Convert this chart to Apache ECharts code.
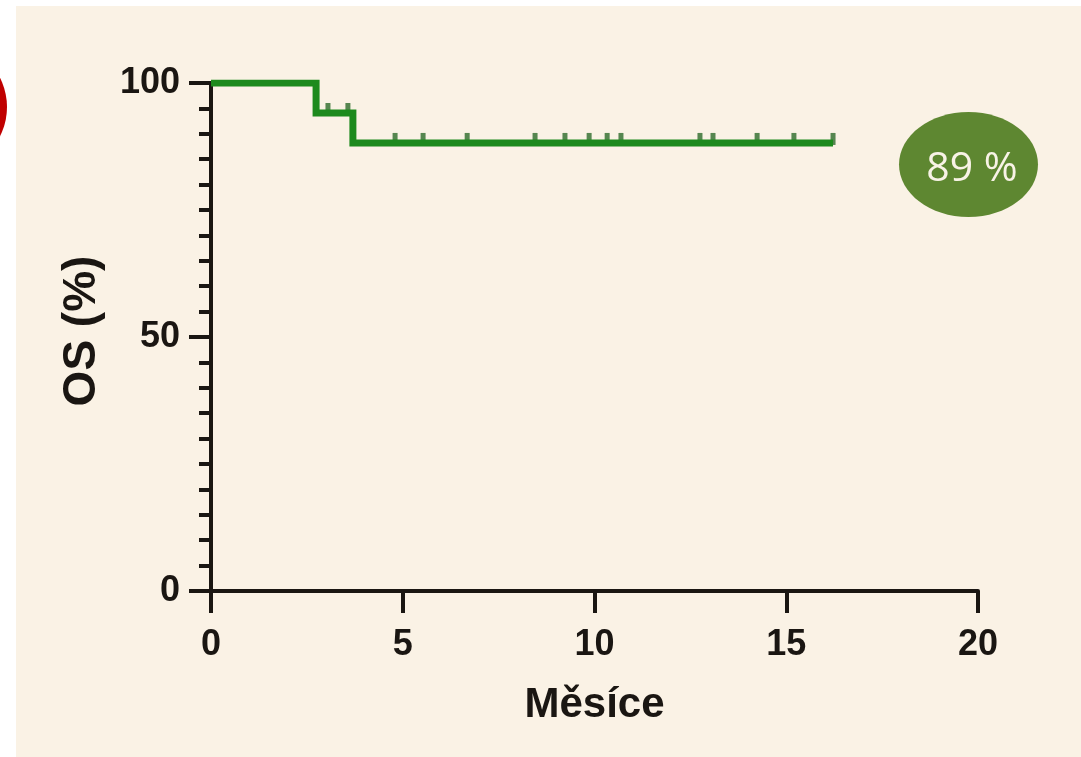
<!DOCTYPE html>
<html>
<head>
<meta charset="utf-8">
<script src="https://cdn.jsdelivr.net/npm/echarts@6/dist/echarts.min.js"></script>
<style>
html,body{margin:0;padding:0;background:#ffffff;}
#chart{width:1081px;height:757px;}
</style>
</head>
<body>
<div id="chart"></div>
<script>
// Kaplan-Meier step points (months, OS %)
var stepTimes = [0, 2.74, 3.7, 16.22];
var stepValues = [100, 94.1, 88.2, 88.2];
// censored observations
var censorTimes = [3.05, 3.57, 4.80, 5.53, 6.68, 8.45, 9.23, 9.86, 10.33, 10.69, 12.75, 13.09, 14.24, 15.20, 16.22];
var censorValues = [94.1, 94.1, 88.2, 88.2, 88.2, 88.2, 88.2, 88.2, 88.2, 88.2, 88.2, 88.2, 88.2, 88.2, 88.2];
var xTicks = [0, 5, 10, 15, 20];
var yTicks = [0, 50, 100];
var xTitle = 'Měsíce';
var yTitle = 'OS (%)';
var badgeText = '89 %';

var chart = echarts.init(document.getElementById('chart'));
var ink = '#1a1612';
var font = '"Liberation Sans", Arial, sans-serif';

chart.setOption({
  backgroundColor: '#ffffff',
  animation: false,
  grid: {left: 211, right: 103, top: 83, bottom: 166},
  graphic: [
    {type: 'rect', z: -10, silent: true, shape: {x: 16, y: 6, width: 1065, height: 751}, style: {fill: '#faf2e5'}},
    {type: 'circle', z: 10, shape: {cx: -58, cy: 107, r: 65}, style: {fill: '#c00000'}},
    {type: 'ellipse', z: 10, shape: {cx: 968.5, cy: 164.5, rx: 69.5, ry: 52.5}, style: {fill: '#5e8731'}},
    {type: 'text', z: 11, x: 972, y: 169, style: {text: badgeText, fill: '#f8f3e6', font: '41px "Open Sans", sans-serif', align: 'center', verticalAlign: 'middle'}}
  ],
  xAxis: {
    type: 'value', min: xTicks[0], max: xTicks[xTicks.length - 1], interval: 5,
    name: xTitle, nameLocation: 'middle', nameGap: 93,
    nameTextStyle: {color: ink, fontSize: 42, fontWeight: 'bold', fontFamily: font},
    axisLine: {show: true, onZero: false, lineStyle: {color: ink, width: 4}},
    axisTick: {show: true, length: 22, lineStyle: {color: ink, width: 4}},
    axisLabel: {color: ink, fontSize: 36, fontWeight: 'bold', fontFamily: font, margin: 36},
    splitLine: {show: false}
  },
  yAxis: {
    type: 'value', min: yTicks[0], max: yTicks[yTicks.length - 1], interval: 50,
    name: yTitle, nameLocation: 'middle', nameGap: 106, nameRotate: 90,
    nameTextStyle: {color: ink, fontSize: 46, fontWeight: 'bold', fontFamily: font, padding: [0, 0, 0, 12]},
    axisLine: {show: true, onZero: false, lineStyle: {color: ink, width: 4}},
    axisTick: {show: true, length: 22, lineStyle: {color: ink, width: 4}},
    minorTick: {show: true, splitNumber: 10, length: 12, lineStyle: {color: ink, width: 4}},
    axisLabel: {color: ink, fontSize: 36, fontWeight: 'bold', fontFamily: font, margin: 31},
    splitLine: {show: false}
  },
  series: [
    {
      type: 'line', step: 'end', showSymbol: false, z: 3,
      data: stepTimes.map(function (t, i) { return [t, stepValues[i]]; }),
      lineStyle: {color: '#1d8a1d', width: 7, cap: 'butt', join: 'miter'}
    },
    {
      type: 'scatter', z: 2, symbol: 'rect', symbolSize: [5, 12], symbolOffset: [0, -4],
      data: censorTimes.map(function (t, i) { return [t, censorValues[i]]; }),
      itemStyle: {color: '#2d6a2a'}
    }
  ]
});
</script>
</body>
</html>
